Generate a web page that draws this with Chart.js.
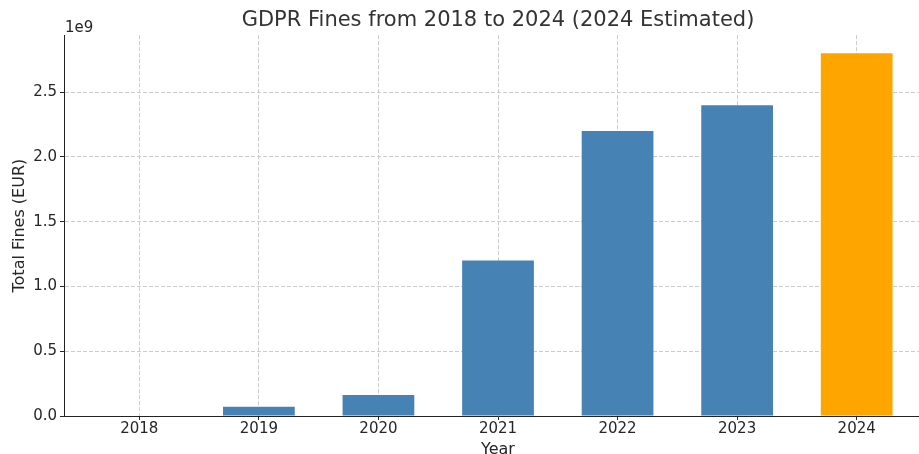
<!DOCTYPE html>
<html>
<head>
<meta charset="utf-8">
<script src="https://cdn.jsdelivr.net/npm/chart.js@4"></script>
<style>
  html, body { margin: 0; padding: 0; overflow: hidden; background: #fff; }
  #wrap { width: 933px; height: 454px; }
</style>
</head>
<body>
<div id="wrap"><canvas id="finesChart" width="933" height="454"></canvas></div>
<script>
// GDPR fines per year, values in EUR
const years = ['2018', '2019', '2020', '2021', '2022', '2023', '2024'];
const fines = [0, 0.072e9, 0.162e9, 1.2e9, 2.2e9, 2.4e9, 2.8e9];
const estimated = [false, false, false, false, false, false, true];
const yTicks = [0, 0.5e9, 1.0e9, 1.5e9, 2.0e9, 2.5e9];

const barColor = '#4682B4';
const estimateColor = '#FFA500';
const gridColor = '#cccccc';
const textColor = '#262626';
const font = "'DejaVu Sans', sans-serif";

// "1e9" offset label above the y axis, like matplotlib does
const offsetLabel = {
    id: 'offsetLabel',
    afterDraw(chart) {
        const ctx = chart.ctx;
        const y = chart.scales.y;
        ctx.save();
        ctx.font = '15px ' + font;
        ctx.fillStyle = textColor;
        ctx.textAlign = 'left';
        ctx.textBaseline = 'alphabetic';
        ctx.fillText('1e9', y.right + 1, y.top - 3);
        ctx.restore();
    }
};

const ctx = document.getElementById('finesChart').getContext('2d');
new Chart(ctx, {
    type: 'bar',
    data: {
        datasets: [{
            data: fines.map((v, i) => ({ x: i, y: v })),
            backgroundColor: estimated.map(e => e ? estimateColor : barColor),
            borderWidth: 0,
            barPercentage: 0.6,
            categoryPercentage: 1.0
        }]
    },
    plugins: [offsetLabel],
    options: {
        responsive: false,
        animation: false,
        layout: { padding: { left: 0, right: 1, top: 0, bottom: 0 } },
        plugins: {
            legend: { display: false },
            tooltip: { enabled: false },
            title: {
                display: true,
                text: 'GDPR Fines from 2018 to 2024 (2024 Estimated)',
                fullSize: false,
                color: '#333333',
                font: { family: font, size: 21, weight: 'normal' },
                padding: { top: 8, bottom: 2 }
            }
        },
        scales: {
            x: {
                type: 'linear',
                min: -0.63,
                max: 6.63,
                offset: false,
                z: 1,
                afterBuildTicks: scale => { scale.ticks = years.map((_, i) => ({ value: i })); },
                afterFit: scale => { scale.height = 38; },
                ticks: {
                    callback: v => years[v],
                    color: textColor,
                    font: { family: font, size: 15 },
                    padding: 0,
                    maxRotation: 0
                },
                grid: {
                    offset: false,
                    color: gridColor,
                    lineWidth: 1,
                    tickColor: textColor,
                    tickLength: 4
                },
                border: { color: '#222', width: 1, dash: [4, 2] },
                title: {
                    display: true,
                    text: 'Year',
                    color: textColor,
                    font: { family: font, size: 16, lineHeight: 0.5 },
                    padding: { top: 0, bottom: 0 }
                }
            },
            y: {
                min: 0,
                max: 2.94e9,
                z: 1,
                afterBuildTicks: scale => { scale.ticks = yTicks.map(v => ({ value: v })); },
                afterFit: scale => { scale.width = 64; },
                ticks: {
                    callback: v => (v / 1e9).toFixed(1),
                    color: textColor,
                    font: { family: font, size: 15 },
                    padding: 3
                },
                grid: {
                    color: gridColor,
                    lineWidth: 1,
                    tickColor: textColor,
                    tickLength: 4
                },
                border: { color: '#222', width: 1, dash: [4, 2] },
                title: {
                    display: true,
                    text: 'Total Fines (EUR)',
                    color: textColor,
                    font: { family: font, size: 16 },
                    padding: { top: 10, bottom: 0 }
                }
            }
        }
    }
});
</script>
</body>
</html>
